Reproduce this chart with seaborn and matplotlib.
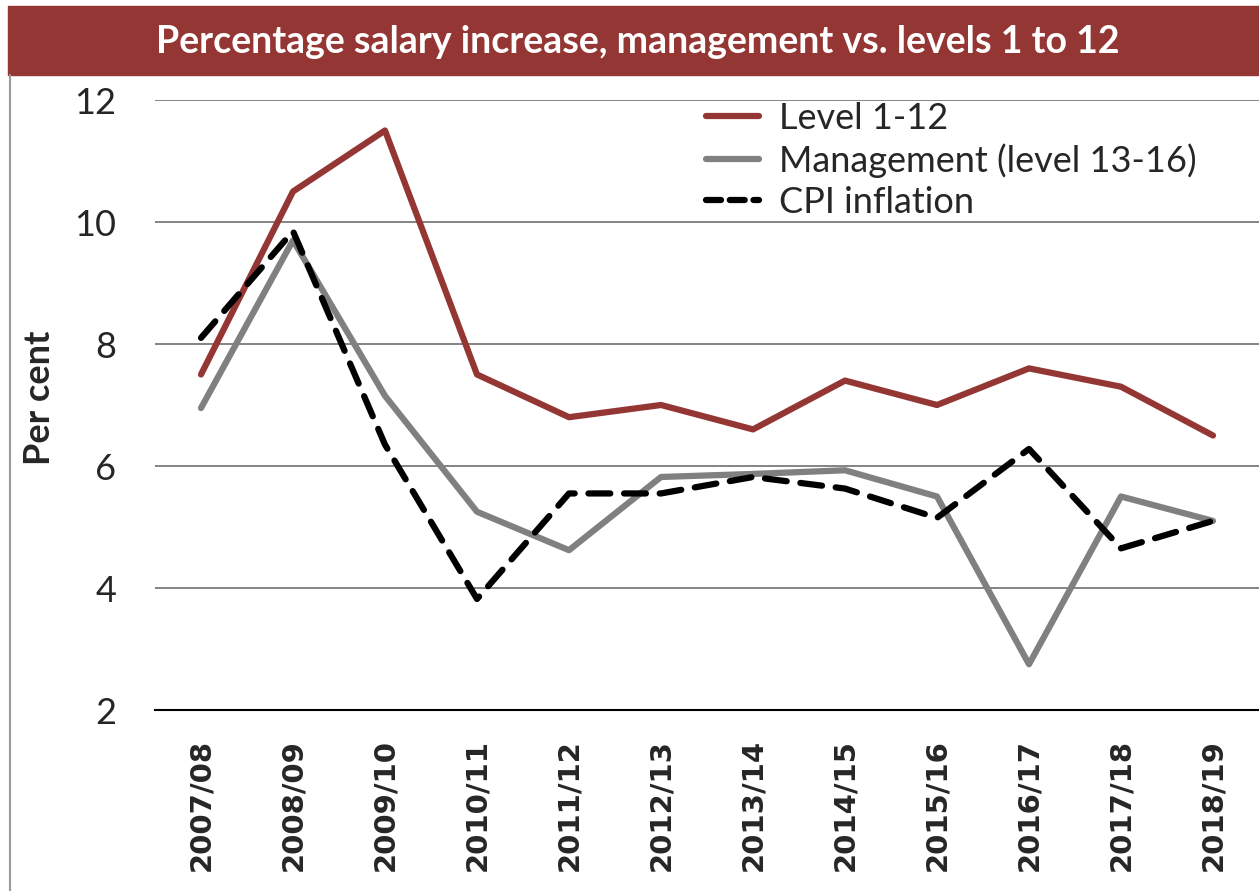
import matplotlib
matplotlib.use("Agg")
import matplotlib.pyplot as plt
import pandas as pd
import seaborn as sns
from matplotlib.patches import Rectangle
from matplotlib.lines import Line2D

years = ["2007/08", "2008/09", "2009/10", "2010/11", "2011/12", "2012/13",
         "2013/14", "2014/15", "2015/16", "2016/17", "2017/18", "2018/19"]
level_1_12 = [7.5, 10.5, 11.5, 7.5, 6.8, 7.0, 6.6, 7.4, 7.0, 7.6, 7.3, 6.5]
management = [6.95, 9.7, 7.15, 5.25, 4.62, 5.82, 5.87, 5.93, 5.5, 2.75, 5.5, 5.1]
cpi = [8.1, 9.85, 6.35, 3.82, 5.55, 5.55, 5.82, 5.63, 5.15, 6.28, 4.65, 5.1]

RED = "#943634"
GREY = "#808080"

sns.set_style("white")
plt.rcParams["font.family"] = ["Lato", "DejaVu Sans"]

df = pd.DataFrame({"year": years, "lvl": level_1_12, "mgmt": management, "cpi": cpi})

fig = plt.figure(figsize=(12.59, 8.91), dpi=100)
ax = fig.add_axes([155 / 1259, 1 - 710 / 891, 1 - 155 / 1259, 610 / 891])

sns.lineplot(data=df, x="year", y="lvl", ax=ax, color=RED, lw=4.5, sort=False,
             label="Level 1-12", solid_capstyle="round")
sns.lineplot(data=df, x="year", y="mgmt", ax=ax, color=GREY, lw=4.5, sort=False,
             label="Management (level 13-16)", solid_capstyle="round")
sns.lineplot(data=df, x="year", y="cpi", ax=ax, color="black", lw=4.5, sort=False,
             label="CPI inflation", dashes=False, linestyle=(0, (3.5, 2.2)),
             dash_capstyle="round")

ax.set_xlim(-0.5, len(years) - 0.5)
ax.set_ylim(2, 12)
ax.set_yticks([2, 4, 6, 8, 10, 12])
ax.yaxis.grid(True, color="#6f6f6f", lw=1.2)
ax.set_axisbelow(True)
for s in ["top", "right", "left"]:
    ax.spines[s].set_visible(False)
ax.spines["bottom"].set_color("black")
ax.spines["bottom"].set_linewidth(1.5)
ax.tick_params(axis="y", length=0, pad=28, labelsize=26)
ax.tick_params(axis="x", length=0, pad=21)
ax.set_xticks(range(len(years)))
ax.set_xticklabels(years, rotation=90, fontsize=21, fontweight="bold",
                   family="DejaVu Sans")
ax.set_xlabel("")
ax.set_ylabel("")
fig.text(40 / 1259, 1 - 398 / 891, "Per cent", rotation=90, fontsize=26,
         fontweight="bold", ha="center", va="center")

handles = [Line2D([], [], color=RED, lw=4.5, solid_capstyle="round"),
           Line2D([], [], color=GREY, lw=4.5, solid_capstyle="round"),
           Line2D([], [], color="black", lw=4.5, linestyle=(0, (2.4, 1.4)),
                  dash_capstyle="round")]
ax.legend(handles, ["Level 1-12", "Management (level 13-16)", "CPI inflation"],
          loc="upper left", bbox_to_anchor=(0.47, 1.05), frameon=False,
          fontsize=26, handlelength=1.45, handletextpad=0.55, labelspacing=0.22)

# title banner and left border
fig.patches.append(Rectangle((8 / 1259, 1 - 75 / 891), 1, 69 / 891,
                             transform=fig.transFigure, color=RED, zorder=0))
fig.lines.append(Line2D([10 / 1259, 10 / 1259], [0, 1 - 75 / 891],
                        transform=fig.transFigure, color="#9a9a9a", lw=1.5))
fig.text(638 / 1259, 1 - 42 / 891,
         "Percentage salary increase, management vs. levels 1 to 12",
         color="white", fontsize=27, fontweight="bold", ha="center", va="center")

fig.savefig("out.png", dpi=100)
